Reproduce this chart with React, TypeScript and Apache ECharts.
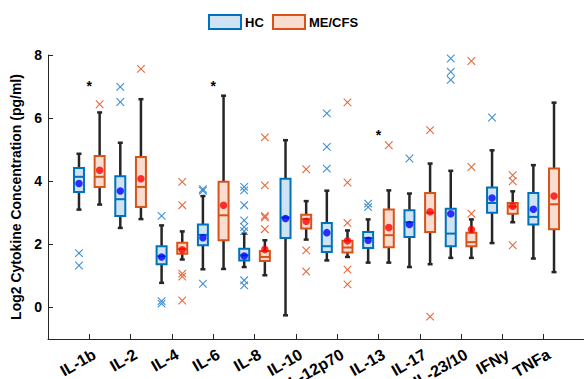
import React, { useEffect, useRef } from "react";
import * as echarts from "echarts";

const categories = ["IL-1b", "IL-2", "IL-4", "IL-6", "IL-8", "IL-10", "IL-12p70", "IL-13", "IL-17", "IL-23/10", "IFNy", "TNFa"];
const yTicks = [0, 2, 4, 6, 8];

// [lower whisker, q1, median, q3, upper whisker]
const hcStats = [
  [3.10, 3.66, 4.14, 4.42, 4.87],
  [2.52, 2.90, 3.43, 4.16, 5.22],
  [0.78, 1.37, 1.62, 1.94, 2.60],
  [1.21, 1.97, 2.30, 2.63, 3.53],
  [1.28, 1.49, 1.65, 1.86, 2.34],
  [-0.25, 2.20, 2.85, 4.08, 5.30],
  [1.49, 1.76, 1.94, 2.68, 3.70],
  [1.42, 1.88, 2.20, 2.39, 2.79],
  [1.28, 2.23, 2.70, 3.08, 3.61],
  [1.57, 1.94, 2.34, 3.13, 4.33],
  [2.04, 3.00, 3.31, 3.80, 4.98],
  [1.55, 2.63, 2.87, 3.63, 4.51],
];
const meStats = [
  [3.26, 3.82, 4.14, 4.80, 6.18],
  [2.80, 3.18, 3.82, 4.77, 6.60],
  [1.52, 1.70, 1.85, 2.05, 2.41],
  [1.22, 2.13, 2.92, 3.98, 6.71],
  [1.02, 1.47, 1.60, 1.79, 2.13],
  [2.15, 2.50, 2.80, 2.94, 3.37],
  [1.60, 1.74, 1.90, 2.11, 2.44],
  [1.42, 1.91, 2.29, 3.10, 3.71],
  [1.37, 2.39, 3.00, 3.63, 4.56],
  [1.57, 1.94, 2.07, 2.37, 2.79],
  [2.70, 2.97, 3.20, 3.31, 3.68],
  [1.12, 2.48, 3.27, 4.40, 6.49],
];
const hcMeans = [3.93, 3.69, 1.60, 2.21, 1.63, 2.82, 2.37, 2.13, 2.63, 2.97, 3.47, 3.11];
const meMeans = [4.35, 4.08, 1.83, 3.24, 1.84, 2.73, 2.11, 2.53, 3.03, 2.47, 3.21, 3.53];
const hcOutliers = [
  [1.72, 1.33],
  [6.99, 6.51],
  [2.90, 0.20, 0.12],
  [3.75, 3.70, 0.75],
  [3.82, 3.71, 3.24, 2.76, 2.55, 2.42, 0.86, 0.70],
  [],
  [6.15, 5.09, 4.40],
  [3.29, 3.18],
  [4.72],
  [7.89, 7.47, 7.21],
  [6.02],
  [],
];
const meOutliers = [
  [6.44],
  [7.56],
  [3.98, 3.24, 1.07, 0.98, 0.22],
  [],
  [5.39, 3.87, 2.90, 2.85, 2.48],
  [4.38, 1.81, 1.14],
  [6.50, 3.96, 2.68, 1.20, 0.73],
  [5.14],
  [5.62, -0.29],
  [7.81, 4.45, 2.97],
  [4.19, 4.00, 1.97],
  [],
];
const starCategories = ["IL-1b", "IL-6", "IL-13"];
const starValues = [7.1, 7.1, 5.57];

const HC_STROKE = "#0072BD";
const HC_FILL = "#cfe3f3";
const ME_STROKE = "#D95319";
const ME_FILL = "#f8ddd0";
const INK = "#262626";
const FONT = "Liberation Sans";

const OFFSET = 0.25;

function boxRenderer(stroke: string, fill: string) {
  return (params: any, api: any) => {
    const x = api.value(0);
    const low = api.coord([x, api.value(1)]);
    const q1 = api.coord([x, api.value(2)]);
    const med = api.coord([x, api.value(3)]);
    const q3 = api.coord([x, api.value(4)]);
    const high = api.coord([x, api.value(5)]);
    const cx = low[0];
    const hw = 5;
    const cap = 2.5;
    const wStyle = { stroke: INK, lineWidth: 2.5 };
    return {
      type: "group",
      children: [
        { type: "line", shape: { x1: cx, y1: high[1], x2: cx, y2: q3[1] }, style: wStyle },
        { type: "line", shape: { x1: cx, y1: low[1], x2: cx, y2: q1[1] }, style: wStyle },
        { type: "line", shape: { x1: cx - cap, y1: high[1], x2: cx + cap, y2: high[1] }, style: wStyle },
        { type: "line", shape: { x1: cx - cap, y1: low[1], x2: cx + cap, y2: low[1] }, style: wStyle },
        {
          type: "rect",
          shape: { x: cx - hw, y: q3[1], width: hw * 2, height: q1[1] - q3[1] },
          style: { fill, stroke, lineWidth: 2 },
        },
        { type: "line", shape: { x1: cx - hw, y1: med[1], x2: cx + hw, y2: med[1] }, style: { stroke, lineWidth: 2 } },
      ],
    };
  };
}

function crossRenderer(stroke: string) {
  return (params: any, api: any) => {
    const p = api.coord([api.value(0), api.value(1)]);
    const s = 3.8;
    const st = { stroke, lineWidth: 1.1 };
    return {
      type: "group",
      children: [
        { type: "line", shape: { x1: p[0] - s, y1: p[1] - s, x2: p[0] + s, y2: p[1] + s }, style: st },
        { type: "line", shape: { x1: p[0] - s, y1: p[1] + s, x2: p[0] + s, y2: p[1] - s }, style: st },
      ],
    };
  };
}

export default function App() {
  const ref = useRef<HTMLDivElement>(null);
  useEffect(() => {
    document.body.style.margin = "0";
    const chart = echarts.init(ref.current!, null, { renderer: "svg" });

    const boxData = (stats: number[][], off: number) =>
      stats.map((s, i) => [i + 1 + off, ...s]);
    const meanData = (m: number[], off: number) => m.map((v, i) => [i + 1 + off, v]);
    const outData = (o: number[][], off: number) => {
      const r: number[][] = [];
      o.forEach((arr, i) => arr.forEach((v) => r.push([i + 1 + off, v])));
      return r;
    };
    const starData = starCategories.map((c, k) => [categories.indexOf(c) + 1, starValues[k]]);

    chart.setOption({
      animation: false,
      backgroundColor: "#ffffff",
      grid: { left: 48, top: 55, right: -1, bottom: 40, containLabel: false, outerBoundsMode: "none" },
      xAxis: {
        type: "value",
        min: 0,
        max: 13,
        interval: 1,
        splitLine: { show: false },
        axisLine: { onZero: false, lineStyle: { color: INK, width: 1 } },
        axisTick: { inside: true, length: 5, lineStyle: { color: INK } },
        axisLabel: {
          rotate: 30,
          margin: 17,
          color: "#000",
          fontWeight: "bold",
          fontSize: 16,
          fontFamily: FONT,
          padding: [0, -6, 0, 0],
          formatter: (v: number) => categories[v - 1] ?? "",
        },
      },
      yAxis: {
        type: "value",
        min: -1,
        max: 8,
        splitLine: { show: false },
        axisLine: { show: true, onZero: false, lineStyle: { color: INK, width: 1 } },
        axisTick: { show: true, inside: true, length: 5, customValues: yTicks, lineStyle: { color: INK } },
        axisLabel: {
          customValues: yTicks,
          margin: 6,
          color: "#000",
          fontWeight: "bold",
          fontSize: 14,
          fontFamily: FONT,
        },
        name: "Log2 Cytokine Concentration (pg/ml)",
        nameLocation: "middle",
        nameRotate: 90,
        nameGap: 25,
        nameTextStyle: { color: "#000", fontWeight: "bold", fontSize: 14, fontFamily: FONT },
      },
      graphic: [
        { type: "rect", shape: { x: 209, y: 15, width: 32, height: 14 }, style: { fill: HC_FILL, stroke: HC_STROKE, lineWidth: 2 } },
        { type: "text", x: 245, y: 22, style: { text: "HC", fill: "#000", font: `bold 13px "${FONT}"`, verticalAlign: "middle" } },
        { type: "rect", shape: { x: 273, y: 15, width: 32, height: 14 }, style: { fill: ME_FILL, stroke: ME_STROKE, lineWidth: 2 } },
        { type: "text", x: 309, y: 22, style: { text: "ME/CFS", fill: "#000", font: `bold 13px "${FONT}"`, verticalAlign: "middle" } },
      ],
      series: [
        { type: "custom", name: "HC", renderItem: boxRenderer(HC_STROKE, HC_FILL), data: boxData(hcStats, -OFFSET), encode: { x: 0, y: [1, 2, 3, 4, 5] } },
        { type: "custom", name: "ME/CFS", renderItem: boxRenderer(ME_STROKE, ME_FILL), data: boxData(meStats, OFFSET), encode: { x: 0, y: [1, 2, 3, 4, 5] } },
        { type: "custom", renderItem: crossRenderer("#3f8fd4"), data: outData(hcOutliers, -OFFSET), encode: { x: 0, y: 1 } },
        { type: "custom", renderItem: crossRenderer("#e46a3e"), data: outData(meOutliers, OFFSET), encode: { x: 0, y: 1 } },
        { type: "scatter", data: meanData(hcMeans, -OFFSET), symbol: "circle", symbolSize: 7.5, itemStyle: { color: "#0000ff" }, z: 5 },
        { type: "scatter", data: meanData(meMeans, OFFSET), symbol: "circle", symbolSize: 7.5, itemStyle: { color: "#ff0000" }, z: 5 },
        {
          type: "custom",
          data: starData,
          encode: { x: 0, y: 1 },
          renderItem: (params: any, api: any) => {
            const p = api.coord([api.value(0), api.value(1)]);
            return {
              type: "text",
              x: p[0],
              y: p[1] + 3,
              style: { text: "*", fill: "#000", font: `bold 14px "${FONT}"`, align: "center", verticalAlign: "middle" },
            };
          },
        },
      ],
    });
    return () => chart.dispose();
  }, []);
  return <div ref={ref} style={{ width: 584, height: 379 }} />;
}
